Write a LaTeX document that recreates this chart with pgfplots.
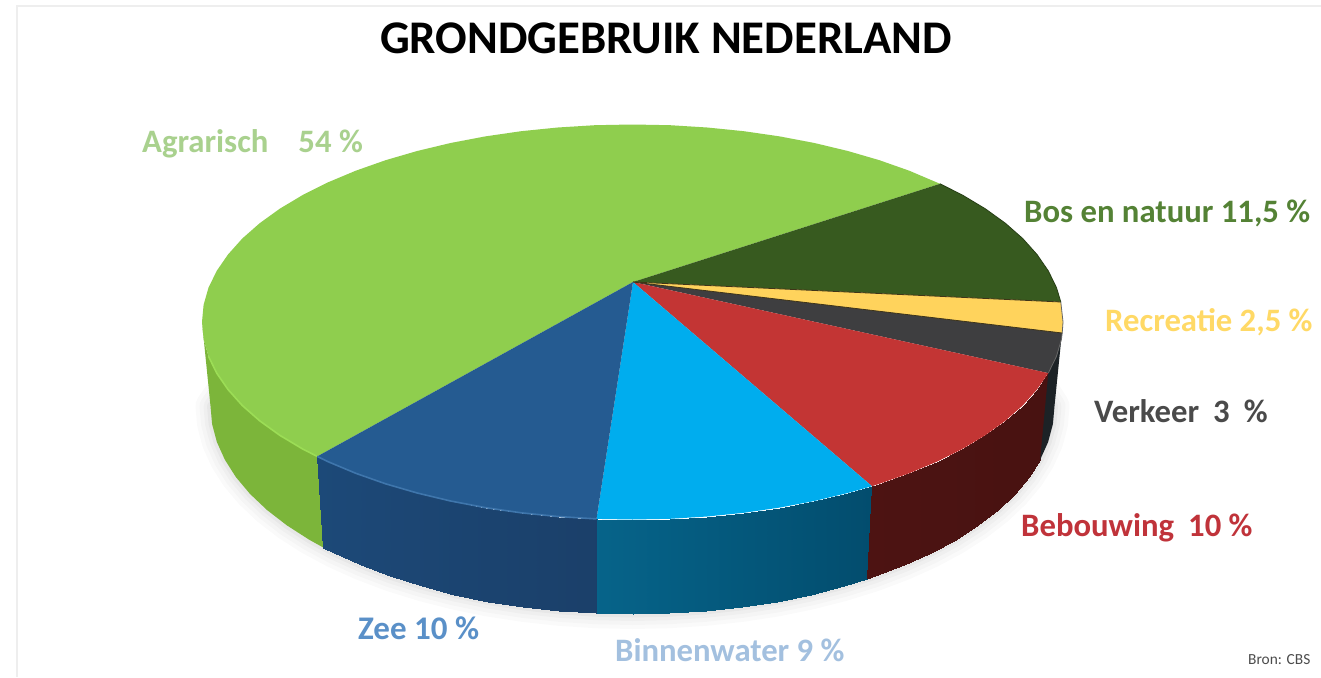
\documentclass[border=0pt]{standalone}
\usepackage{pgfplots}
\usepackage{fontspec}
\setmainfont{Carlito}
\pgfplotsset{compat=1.18}
\definecolor{cGreen}{HTML}{8FCE4E}
\definecolor{cGreenS}{HTML}{7CB53A}
\definecolor{cGreenR}{HTML}{9CDD56}
\definecolor{cDark}{HTML}{375A1F}
\definecolor{cYellow}{HTML}{FFD35C}
\definecolor{cGrey}{HTML}{3E3E40}
\definecolor{cRed}{HTML}{C33534}
\definecolor{cCyan}{HTML}{00ADEE}
\definecolor{cBlue}{HTML}{255B91}
\definecolor{cBlueR}{HTML}{3F76AC}
\definecolor{cStrip}{HTML}{1C2226}
\definecolor{tAgr}{HTML}{A9D18E}
\definecolor{tBos}{HTML}{548235}
\definecolor{tRec}{HTML}{FFD966}
\definecolor{tVer}{HTML}{4A4A4A}
\definecolor{tBeb}{HTML}{C0333A}
\definecolor{tZee}{HTML}{5A90C8}
\definecolor{tBin}{HTML}{A3C0DF}
\definecolor{tFrame}{HTML}{EEEEEE}
\pgfplotstableread{
x y
270 320
210.5 406
212.1 424.1
216.9 442.1
224.9 459.8
235.9 477.1
250 493.9
267 510
286.8 525.3
309.2 539.7
334.1 553.1
361.2 565.3
390.4 576.4
421.5 586.1
454.2 594.5
488.2 601.5
523.3 606.9
559.2 610.8
595.7 613.2
632.5 614
669.3 613.2
705.8 610.8
741.7 606.9
776.8 601.5
810.8 594.5
843.5 586.1
874.6 576.4
903.8 565.3
930.9 553.1
955.8 539.7
978.2 525.3
998 510
1015 493.9
1029.1 477.1
1040.1 459.8
1048.1 442.1
1052.9 424.1
1054.5 406
1000 320
}\bottomarc
\newcommand{\txt}[4]{\node[anchor=west,inner sep=0pt,text=#1,font=\fontsize{#2}{#2}\selectfont\bfseries] at (axis cs:#3) {#4};}
\begin{document}
\begin{tikzpicture}
\begin{axis}[
  width=1321pt,height=677pt,scale only axis,
  xmin=0,xmax=1321,ymin=0,ymax=677,y dir=reverse,
  hide axis,clip=true,
]
% page
\addplot[fill=white,draw=none,no marks] coordinates {(0,0) (1321,0) (1321,677) (0,677)};
% frame
\addplot[draw=tFrame,line width=2pt,no marks] coordinates {(1321,6) (17,6) (17,677)};
% soft shadow
\addplot[draw=black,opacity=.02,line width=30pt,line join=round,no marks] table[x=x,y=y] {\bottomarc};
\addplot[draw=black,opacity=.02,line width=22pt,line join=round,no marks] table[x=x,y=y] {\bottomarc};
\addplot[draw=black,opacity=.025,line width=14pt,line join=round,no marks] table[x=x,y=y] {\bottomarc};
\addplot[draw=black,opacity=.03,line width=7pt,line join=round,no marks] table[x=x,y=y] {\bottomarc};
% green side
\addplot[fill=cGreenS,draw=none,no marks] coordinates {(202,322) (203.6,339.2) (208.5,356.3) (216.7,373.1) (228,389.5) (242.3,405.5) (259.7,420.8) (279.8,435.3) (302.7,449) (317.2,456.4) (323.4,547.6) (309.2,539.7) (286.8,525.3) (267,510) (250,493.9) (235.9,477.1) (224.9,459.8) (216.9,442.1) (212.1,424.1) (210.5,406)};
% blue side
\addplot[surf,shader=interp,mesh/rows=2,point meta=x,point meta min=317,point meta max=597,
  colormap={sb}{rgb255=(28,73,120) rgb255=(25,48,82)}] coordinates {
(317.2,456.4) (328.1,461.7) (355.8,473.3) (385.6,483.8) (417.2,493) (450.6,501) (485.3,507.6) (521.1,512.8) (557.8,516.5) (595,518.8) (596.5,518.9)
(323.4,547.6) (334.1,553.1) (361.2,565.3) (390.4,576.4) (421.5,586.1) (454.2,594.5) (488.2,601.5) (523.3,606.9) (559.2,610.8) (595.7,613.2) (597.2,613.3)};
% cyan side
\addplot[surf,shader=interp,mesh/rows=2,point meta=x,point meta min=597,point meta max=872,
  colormap={sc}{rgb255=(10,123,166) rgb255=(0,62,92)}] coordinates {
(596.5,518.9) (632.5,519.5) (670,518.8) (707.2,516.5) (743.9,512.8) (779.7,507.6) (814.4,501) (847.8,493) (872,486.2)
(597.2,613.3) (632.5,614) (669.3,613.2) (705.8,610.8) (741.7,606.9) (776.8,601.5) (810.8,594.5) (843.5,586.1) (867.1,578.9)};
% red side
\addplot[surf,shader=interp,mesh/rows=2,point meta=x,point meta min=867,point meta max=1048,
  colormap={sr}{rgb255=(92,23,22) rgb255=(72,18,17)}] coordinates {
(872,486.2) (879.4,483.8) (909.2,473.3) (936.9,461.7) (962.3,449) (985.2,435.3) (1005.3,420.8) (1022.7,405.5) (1037,389.5) (1048.3,373.1)
(867.1,578.9) (874.6,576.4) (903.8,565.3) (930.9,553.1) (955.8,539.7) (978.2,525.3) (998,510) (1015,493.9) (1029.1,477.1) (1040.1,459.8)};
% dark strip on the right
\addplot[fill=cStrip,draw=none,no marks] coordinates {(1048.3,373.1) (1056.5,356.3) (1061.4,339.2) (1063,322) (1054.5,406) (1052.9,424.1) (1048.1,442.1) (1040.1,459.8)};
% top faces
\addplot[fill=cGreen,draw=none,no marks] coordinates {(633,282) (317.2,456.4) (302.7,449) (279.8,435.3) (259.7,420.8) (242.3,405.5) (228,389.5) (216.7,373.1) (208.5,356.3) (203.6,339.2) (202,322) (203.6,304.8) (208.5,287.7) (216.7,270.9) (228,254.5) (242.3,238.5) (259.7,223.2) (279.8,208.7) (302.7,195) (328.1,182.3) (355.8,170.7) (385.6,160.2) (417.2,151) (450.6,143) (485.3,136.4) (521.1,131.2) (557.8,127.5) (595,125.2) (632.5,124.5) (670,125.2) (707.2,127.5) (743.9,131.2) (779.7,136.4) (814.4,143) (847.8,151) (879.4,160.2) (909.2,170.7) (940,183.8)};
\addplot[fill=cDark,draw=none,no marks] coordinates {(633,282) (940,183.8) (962.3,195) (985.2,208.7) (1005.3,223.2) (1022.7,238.5) (1037,254.5) (1048.3,270.9) (1056.5,287.7) (1060.8,302)};
\addplot[fill=cYellow,draw=none,no marks] coordinates {(633,282) (1060.8,302) (1063,322) (1062.2,333)};
\addplot[fill=cGrey,draw=none,no marks] coordinates {(633,282) (1062.2,333) (1061.4,339.2) (1056.5,356.3) (1048.3,373.1)};
\addplot[fill=cRed,draw=none,no marks] coordinates {(633,282) (1048.3,373.1) (1037,389.5) (1022.7,405.5) (1005.3,420.8) (985.2,435.3) (962.3,449) (936.9,461.7) (909.2,473.3) (879.4,483.8) (872,486.2)};
\addplot[fill=cCyan,draw=none,no marks] coordinates {(633,282) (872,486.2) (847.8,493) (814.4,501) (779.7,507.6) (743.9,512.8) (707.2,516.5) (670,518.8) (632.5,519.5) (596.5,518.9)};
\addplot[fill=cBlue,draw=none,no marks] coordinates {(633,282) (596.5,518.9) (557.8,516.5) (521.1,512.8) (485.3,507.6) (450.6,501) (417.2,493) (385.6,483.8) (355.8,473.3) (328.1,461.7) (317.2,456.4)};
% rim highlights and slice edges
\addplot[draw=cGreenR,line width=1.6pt,no marks] coordinates {(317.2,456.4) (302.7,449) (279.8,435.3) (259.7,420.8) (242.3,405.5) (228,389.5) (216.7,373.1) (208.5,356.3)};
\addplot[draw=cBlueR,line width=1.6pt,no marks] coordinates {(317.2,456.4) (328.1,461.7) (355.8,473.3) (385.6,483.8) (417.2,493) (450.6,501) (485.3,507.6) (521.1,512.8) (557.8,516.5) (596.5,518.9)};
\addplot[draw=black!75!cYellow,line width=.8pt,no marks] coordinates {(633,282) (1060.8,302)};
\addplot[draw=black!75!cYellow,line width=.8pt,no marks] coordinates {(633,282) (1062.2,333)};
\addplot[draw=black!60,line width=.8pt,no marks] coordinates {(1060.8,302) (1063,322) (1062.2,333) (1061.4,339.2) (1056.5,356.3) (1048.3,373.1)};
\addplot[draw=cDark!70!black,line width=.8pt,no marks] coordinates {(940,183.8) (962.3,195) (985.2,208.7) (1005.3,223.2) (1022.7,238.5) (1037,254.5) (1048.3,270.9) (1056.5,287.7) (1060.8,302)};
% labels
\node[anchor=center,inner sep=0pt,text=black,font=\fontsize{46.8}{47}\selectfont\bfseries] at (axis cs:666,38) {GRONDGEBRUIK NEDERLAND};
\txt{tAgr}{32.7}{142,144}{Agrarisch\hspace{30pt}54 \%}
\txt{tBos}{32.7}{1024,213}{Bos en natuur 11,5 \%}
\txt{tRec}{32.7}{1105,322.5}{Recreatie 2,5 \%}
\txt{tVer}{32.7}{1094,411}{Verkeer\hspace{14pt}3\hspace{14pt}\%}
\txt{tBeb}{32.7}{1021,528}{Bebouwing\hspace{14pt}10 \%}
\txt{tZee}{33}{358,628}{Zee 10 \%}
\txt{tBin}{32.7}{615,650}{Binnenwater 9 \%}
\node[anchor=west,inner sep=0pt,text=black!70,font=\fontsize{15.4}{16}\selectfont] at (axis cs:1248,660) {Bron: CBS};
\end{axis}
\end{tikzpicture}
\end{document}
